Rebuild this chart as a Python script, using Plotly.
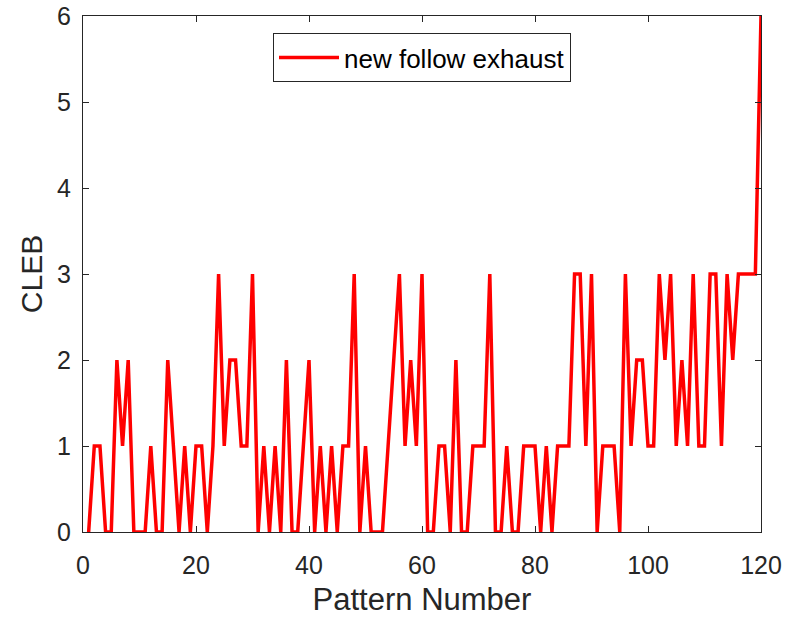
import plotly.graph_objects as go

# Pattern index and CLEB value for each pattern
pattern_number = list(range(1, 121))
cleb = [
    0, 1, 1, 0, 0, 2, 1, 2, 0, 0,
    0, 1, 0, 0, 2, 1, 0, 1, 0, 1,
    1, 0, 1, 3, 1, 2, 2, 1, 1, 3,
    0, 1, 0, 1, 0, 2, 0, 0, 1, 2,
    0, 1, 0, 1, 0, 1, 1, 3, 0, 1,
    0, 0, 0, 1, 2, 3, 1, 2, 1, 3,
    0, 0, 1, 1, 0, 2, 0, 0, 1, 1,
    1, 3, 0, 0, 1, 0, 0, 1, 1, 1,
    0, 1, 0, 1, 1, 1, 3, 3, 1, 3,
    0, 1, 1, 1, 0, 3, 1, 2, 2, 1,
    1, 3, 2, 3, 1, 2, 1, 3, 1, 1,
    3, 3, 1, 3, 2, 3, 3, 3, 3, 6,
]
series_name = "new follow exhaust"

x_ticks = [0, 20, 40, 60, 80, 100, 120]
y_ticks = [0, 1, 2, 3, 4, 5, 6]

FONT = "Liberation Sans, Arial, Helvetica, sans-serif"
AXIS_COLOR = "#262626"

fig = go.Figure()
fig.add_trace(go.Scatter(
    x=pattern_number,
    y=cleb,
    mode="lines",
    name=series_name,
    line=dict(color="#FF0000", width=3.5),
))

axis_common = dict(
    showline=True,
    linecolor=AXIS_COLOR,
    linewidth=1,
    mirror="ticks",
    ticks="inside",
    ticklen=6,
    tickwidth=1,
    tickcolor=AXIS_COLOR,
    showgrid=False,
    zeroline=False,
    automargin=False,
    tickfont=dict(family=FONT, size=25, color=AXIS_COLOR),
)

fig.update_xaxes(
    range=[0, 120],
    tickvals=x_ticks,
    ticklabelstandoff=11,
    title=dict(text="Pattern Number", font=dict(family=FONT, size=31, color=AXIS_COLOR), standoff=10),
    **axis_common,
)
fig.update_yaxes(
    range=[0, 6],
    tickvals=y_ticks,
    ticklabelstandoff=6,
    title=dict(text="CLEB", font=dict(family=FONT, size=30, color=AXIS_COLOR), standoff=5),
    **axis_common,
)

fig.update_layout(
    width=786,
    height=618,
    margin=dict(l=83, r=25, t=16, b=86),
    paper_bgcolor="white",
    plot_bgcolor="white",
    showlegend=True,
    legend=dict(
        x=0.5, y=0.967,
        xanchor="center", yanchor="top",
        bgcolor="white",
        bordercolor="#262626",
        borderwidth=1,
        font=dict(family=FONT, size=26, color="black"),
        itemwidth=60,
    ),
)

fig.write_html("out.html")
